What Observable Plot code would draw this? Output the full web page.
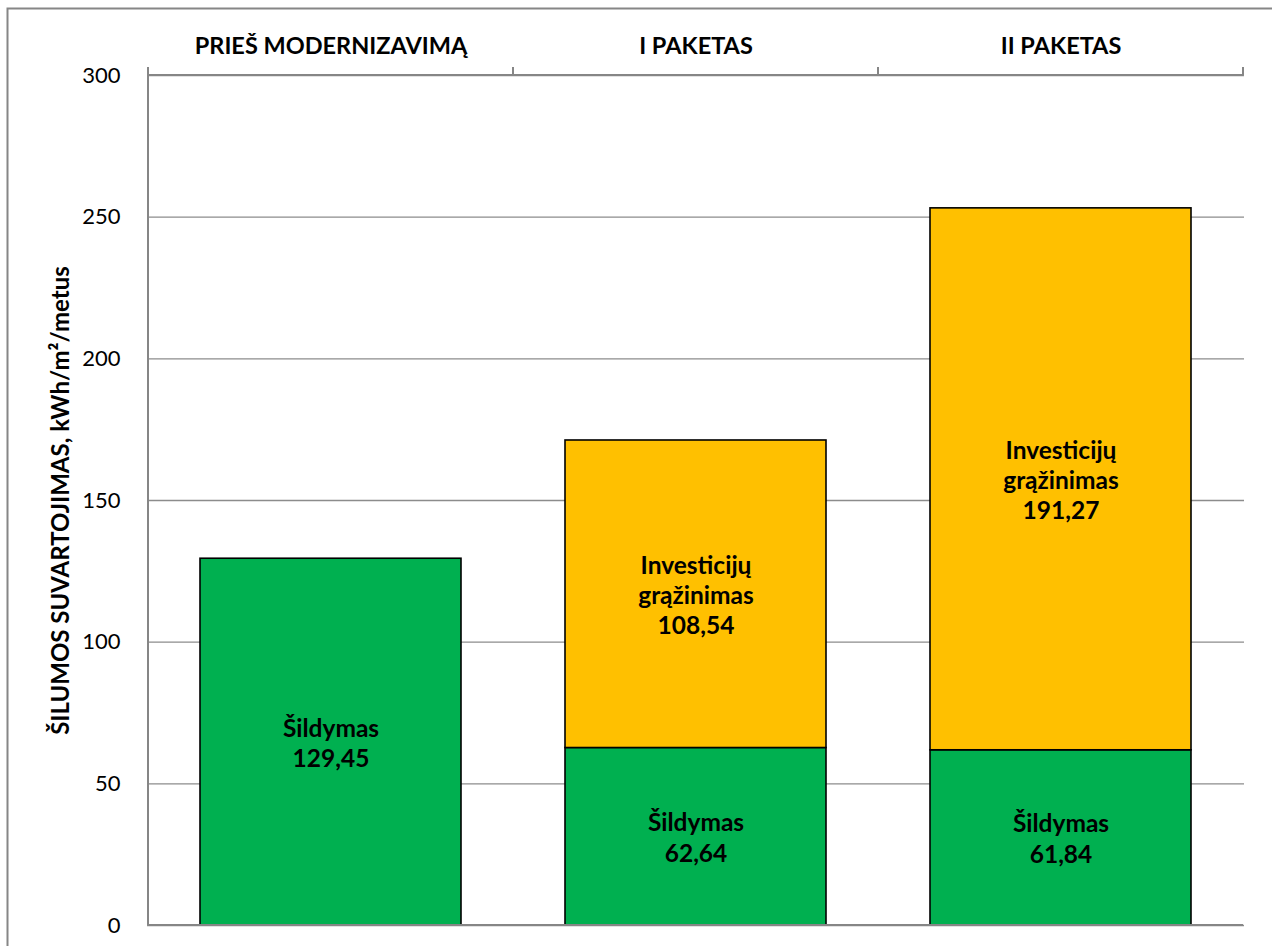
<!DOCTYPE html>
<html>
<head>
<meta charset="utf-8">
<script src="https://cdn.jsdelivr.net/npm/d3@7"></script>
<script src="https://cdn.jsdelivr.net/npm/@observablehq/plot@0.6"></script>
<style>
  html, body { margin: 0; padding: 0; background: #fff; }
  #chart svg { display: block; }
</style>
</head>
<body>
<div id="chart"></div>
<script>
const categories = ["PRIEŠ MODERNIZAVIMĄ", "I PAKETAS", "II PAKETAS"];
const seriesNames = ["Šildymas", "Investicijų grąžinimas"];
const seriesLabels = ["Šildymas", "Investicijų\ngrąžinimas"];
const heating = [129.45, 62.64, 61.84];
const investment = [0, 108.54, 191.27];
const seriesColors = ["#00B050", "#FFC000"];
const yTicks = [0, 50, 100, 150, 200, 250, 300];
const yTitle = "ŠILUMOS SUVARTOJIMAS, kWh/m²/metus";

(function () {
const seriesValues = [heating, investment];
const data = [];
categories.forEach((c, i) => {
  seriesNames.forEach((s, j) => {
    const v = seriesValues[j][i];
    if (v > 0) data.push({category: c, series: s, value: v,
      label: seriesLabels[j] + "\n" + v.toFixed(2).replace(".", ",")});
  });
});

const font = "Lato, 'Open Sans', sans-serif";

const plot = Plot.plot({
  width: 1272,
  height: 946,
  marginTop: 75,
  marginLeft: 147,
  marginRight: 28,
  marginBottom: 21,
  style: {fontFamily: font, color: "#000", background: "#fff"},
  x: {domain: categories, paddingInner: 0.284, paddingOuter: 0.142, axis: null},
  y: {domain: [0, 300], axis: null},
  color: {domain: seriesNames, range: seriesColors},
  marks: [
    Plot.gridY(yTicks, {stroke: "#8c8c8c", strokeOpacity: 1, strokeWidth: 1.4}),
    Plot.barY(data, Plot.stackY({x: "category", y: "value", fill: "series", order: seriesNames,
      stroke: "#000", strokeWidth: 1.6})),
    Plot.text(data, Plot.stackY({x: "category", y: "value", z: "series", order: seriesNames,
      text: "label", fontSize: 24.5, fontWeight: "bold", lineHeight: 1.24, fill: "#000"})),
    Plot.axisX({anchor: "top", tickSize: 0, tickPadding: 22, fontSize: 23.5, fontWeight: "bold", label: null}),
    Plot.axisY({ticks: yTicks, tickSize: 0, tickPadding: 27, fontSize: 22, label: null}),
    Plot.text([yTitle], {frameAnchor: "left", textAnchor: "middle", dx: -86, rotate: -90,
      fontSize: 24, fontWeight: "bold", fill: "#000"})
  ]
});

const svg = d3.select(plot);
const xs = plot.scale("x");
const ys = plot.scale("y");
const step = xs.step;
const yTop = ys.apply(300), yBottom = ys.apply(0);
const xLeft = xs.apply(categories[0]) - (step - xs.bandwidth) / 2;
const bounds = [xLeft].concat(categories.map(c => xs.apply(c) - (step - xs.bandwidth) / 2 + step));
const xRight = bounds[bounds.length - 1];
const g = svg.append("g").attr("stroke", "#868686").attr("stroke-width", 2).attr("fill", "none");
g.append("line").attr("x1", xLeft).attr("x2", xLeft).attr("y1", yTop).attr("y2", yBottom);
g.append("line").attr("x1", xLeft).attr("x2", xRight).attr("y1", yTop).attr("y2", yTop);
g.append("line").attr("x1", xLeft).attr("x2", xRight).attr("y1", yBottom).attr("y2", yBottom);
bounds.forEach(b => g.append("line").attr("x1", b).attr("x2", b).attr("y1", yTop).attr("y2", yTop - 8));
svg.append("rect").attr("x", 7.5).attr("y", 8.5).attr("width", 1400).attr("height", 1200)
  .attr("fill", "none").attr("stroke", "#868686").attr("stroke-width", 2);

document.getElementById("chart").appendChild(plot);
})();
</script>
</body>
</html>
